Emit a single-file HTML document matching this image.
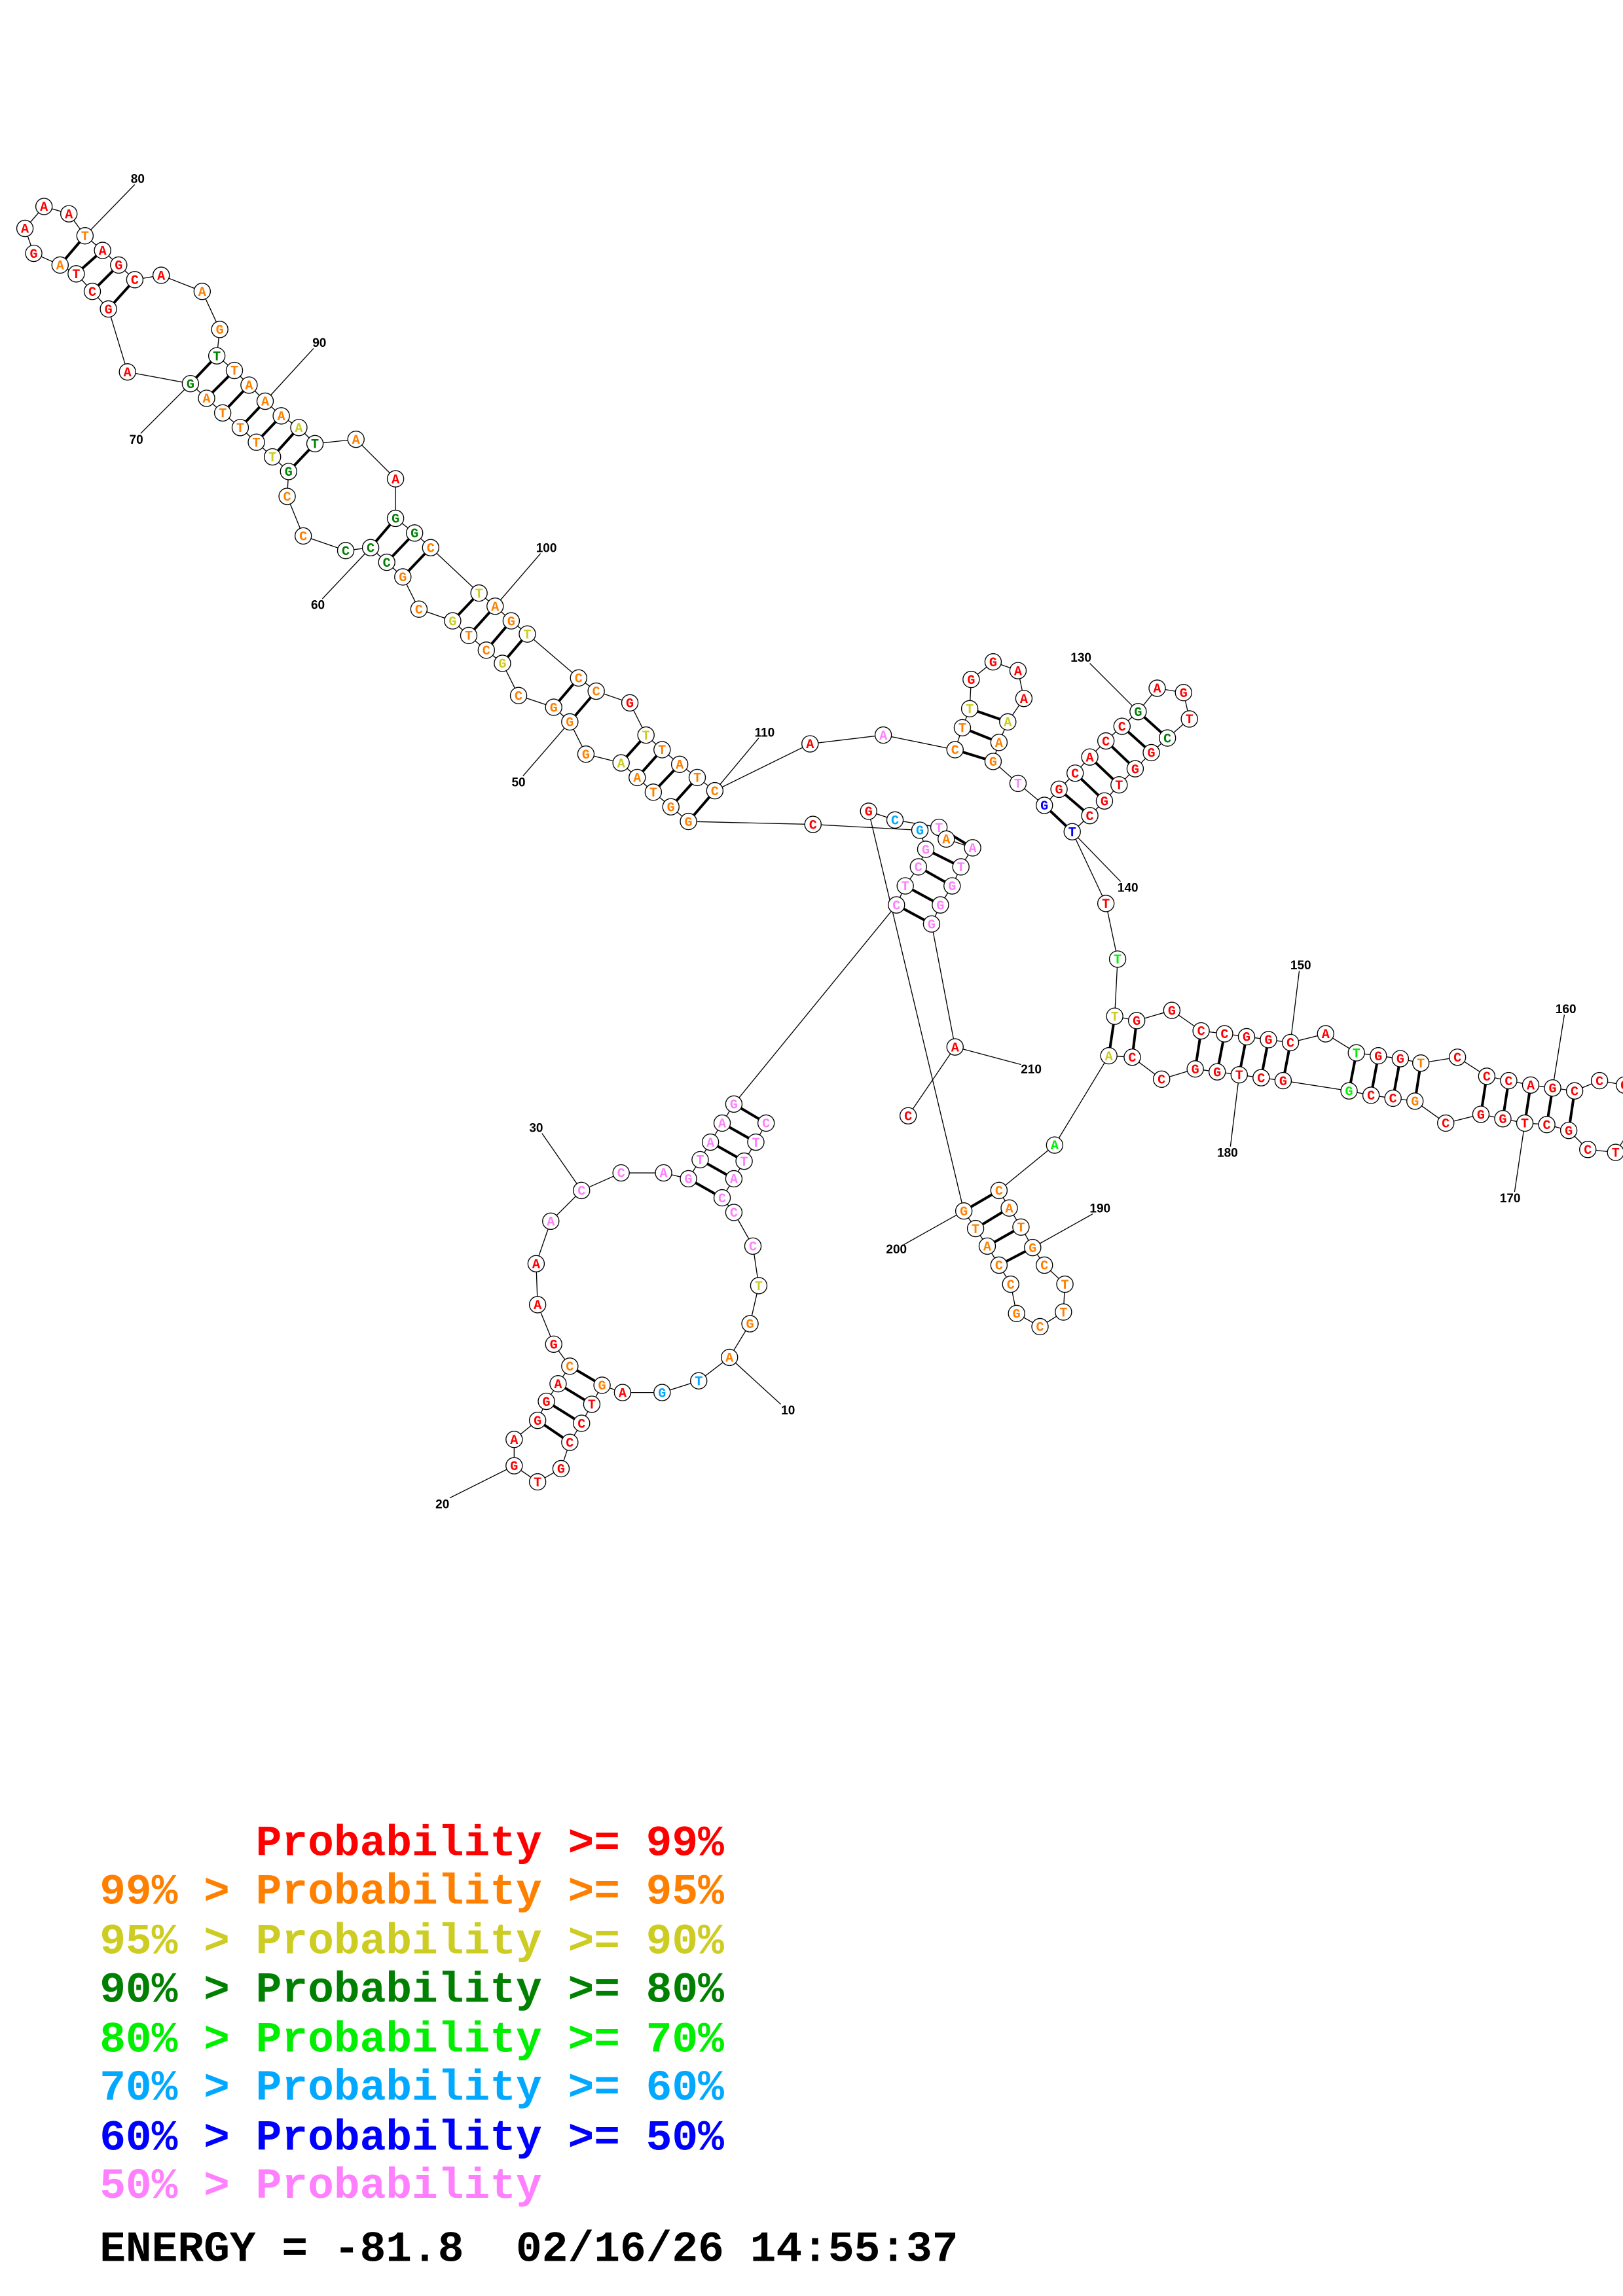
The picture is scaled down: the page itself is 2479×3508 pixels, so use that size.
<!DOCTYPE html>
<html><head><meta charset="utf-8"><style>
html,body{margin:0;padding:0;background:#fff}
svg{display:block}
circle{fill:#fff;stroke:#000;stroke-width:.6}
.bb{fill:none;stroke:#000;stroke-width:.6}
.pr{stroke:#000;stroke-width:1.8}
.ll{stroke:#000;stroke-width:.6}
text.n{font-family:"Liberation Mono",monospace;font-weight:bold;font-size:9px;text-anchor:middle}
text.l{font-family:"Liberation Sans",sans-serif;font-weight:bold;font-size:8.5px;text-anchor:middle}
.r{fill:#f00}.o{fill:#ff8000}.y{fill:#cccc22}.d{fill:#008000}.g{fill:#00ee00}.u{fill:#00a8ff}.b{fill:#0000ff}.p{fill:#ff80ff}
text.lg{font-family:"Liberation Mono",monospace;font-weight:bold;font-size:29.6px;white-space:pre}
</style></head><body>
<svg xmlns="http://www.w3.org/2000/svg" width="2479" height="3508" viewBox="0 0 1108 1568">
<polyline class="bb" points="523,767 516,780 508,793 501,805 493,818 501,828 514,851 518,878 512,904 498,927 477,943 452,951 425,951 411,946 404,959 397,972 389,985 383,1003 367,1012 351,1001 351,983 367,970 373,957 381,945 389,933 378,918 367,891 366,863 376,834 397,813 424,801 453,801 470,805 478,792 485,780 493,767 501,754 612,618 618,605 627,592 632,580 628,567 555,563 470,561 458,551 446,541 435,531 424,521 400,515 389,493 378,483 354,475 343,453 332,444 320,434 309,424 286,416 275,394 264,384 253,374 236,376 207,366 196,339 197,322 186,312 175,302 164,292 152,282 141,272 130,262 87,254 74,211 63,199 52,187 41,181 23,173 17,156 30,141 47,146 58,161 70,171 81,181 92,191 110,188 138,199 150,225 148,243 160,253 170,263 181,274 192,284 204,292 215,303 243,300 270,327 270,354 283,364 294,374 327,405 338,414 349,424 360,433 395,463 407,472 430,480 441,502 452,512 464,522 476,531 488,540 553,508 603,502 652,512 657,497 662,484 663,464 678,452 695,458 699,477 688,493 682,507 678,520 695,535 713,550 723,539 734,528 744,517 755,506 766,496 777,486 790,470 808,473 812,491 797,504 786,514 775,525 764,536 754,547 744,557 732,568 755,617 763,655 761,694 776,697 800,690 820,704 836,706 851,708 866,710 881,712 905,706 926,719 941,721 956,723 970,726 995,722 1015,735 1030,738 1045,741 1060,743 1075,745 1092,738 1109,741 1114,770 1103,787 1084,785 1071,772 1056,768 1041,767 1026,764 1011,761 987,767 966,752 951,750 936,748 921,745 876,738 861,736 846,734 831,732 816,730 793,737 773,722 757,721 720,782 682,813 689,825 697,838 705,852 713,864 727,877 726,896 710,906 694,897 690,877 682,864 674,851 666,839 658,827 593,554 611,560 641,565 646,573 664,579 656,592 650,605 642,618 636,631 652,715 620,762"/>
<g class="pr">
<line x1="41" y1="181" x2="58" y2="161"/><line x1="52" y1="187" x2="70" y2="171"/><line x1="63" y1="199" x2="81" y2="181"/><line x1="74" y1="211" x2="92" y2="191"/>
<line x1="130" y1="262" x2="148" y2="243"/><line x1="141" y1="272" x2="160" y2="253"/><line x1="152" y1="282" x2="170" y2="263"/><line x1="164" y1="292" x2="181" y2="274"/><line x1="175" y1="302" x2="192" y2="284"/><line x1="186" y1="312" x2="204" y2="292"/><line x1="197" y1="322" x2="215" y2="303"/>
<line x1="253" y1="374" x2="270" y2="354"/><line x1="264" y1="384" x2="283" y2="364"/><line x1="275" y1="394" x2="294" y2="374"/>
<line x1="309" y1="424" x2="327" y2="405"/><line x1="320" y1="434" x2="338" y2="414"/><line x1="332" y1="444" x2="349" y2="424"/><line x1="343" y1="453" x2="360" y2="433"/>
<line x1="378" y1="483" x2="395" y2="463"/><line x1="389" y1="493" x2="407" y2="472"/>
<line x1="424" y1="521" x2="441" y2="502"/><line x1="435" y1="531" x2="452" y2="512"/><line x1="446" y1="541" x2="464" y2="522"/><line x1="458" y1="551" x2="476" y2="531"/><line x1="470" y1="561" x2="488" y2="540"/>
<line x1="652" y1="512" x2="678" y2="520"/><line x1="657" y1="497" x2="682" y2="507"/><line x1="662" y1="484" x2="688" y2="493"/>
<line x1="713" y1="550" x2="732" y2="568"/><line x1="723" y1="539" x2="744" y2="557"/><line x1="734" y1="528" x2="754" y2="547"/><line x1="744" y1="517" x2="764" y2="536"/><line x1="755" y1="506" x2="775" y2="525"/><line x1="766" y1="496" x2="786" y2="514"/><line x1="777" y1="486" x2="797" y2="504"/>
<line x1="761" y1="694" x2="757" y2="721"/><line x1="776" y1="697" x2="773" y2="722"/><line x1="820" y1="704" x2="816" y2="730"/><line x1="836" y1="706" x2="831" y2="732"/><line x1="851" y1="708" x2="846" y2="734"/><line x1="866" y1="710" x2="861" y2="736"/><line x1="881" y1="712" x2="876" y2="738"/><line x1="926" y1="719" x2="921" y2="745"/><line x1="941" y1="721" x2="936" y2="748"/><line x1="956" y1="723" x2="951" y2="750"/><line x1="970" y1="726" x2="966" y2="752"/><line x1="1015" y1="735" x2="1011" y2="761"/><line x1="1030" y1="738" x2="1026" y2="764"/><line x1="1045" y1="741" x2="1041" y2="767"/><line x1="1060" y1="743" x2="1056" y2="768"/><line x1="1075" y1="745" x2="1071" y2="772"/>
<line x1="682" y1="813" x2="658" y2="827"/><line x1="689" y1="825" x2="666" y2="839"/><line x1="697" y1="838" x2="674" y2="851"/><line x1="705" y1="852" x2="682" y2="864"/>
<line x1="641" y1="565" x2="664" y2="579"/><line x1="632" y1="580" x2="656" y2="592"/><line x1="627" y1="592" x2="650" y2="605"/><line x1="618" y1="605" x2="642" y2="618"/><line x1="612" y1="618" x2="636" y2="631"/>
<line x1="501" y1="754" x2="523" y2="767"/><line x1="493" y1="767" x2="516" y2="780"/><line x1="485" y1="780" x2="508" y2="793"/><line x1="478" y1="792" x2="501" y2="805"/><line x1="470" y1="805" x2="493" y2="818"/>
<line x1="389" y1="933" x2="411" y2="946"/><line x1="381" y1="945" x2="404" y2="959"/><line x1="373" y1="957" x2="397" y2="972"/><line x1="367" y1="970" x2="389" y2="985"/>
</g>
<g class="ll">
<line x1="58" y1="161" x2="92" y2="126"/><line x1="181" y1="274" x2="214" y2="238"/><line x1="130" y1="262" x2="96" y2="296"/><line x1="253" y1="374" x2="220" y2="409"/><line x1="338" y1="414" x2="369" y2="378"/><line x1="389" y1="493" x2="357" y2="530"/><line x1="488" y1="540" x2="518" y2="504"/><line x1="777" y1="486" x2="744" y2="453"/><line x1="732" y1="568" x2="765" y2="602"/><line x1="881" y1="712" x2="887" y2="663"/><line x1="1060" y1="743" x2="1068" y2="693"/><line x1="1041" y1="767" x2="1034" y2="814"/><line x1="846" y1="734" x2="840" y2="783"/><line x1="705" y1="852" x2="746" y2="829"/><line x1="658" y1="827" x2="617" y2="850"/><line x1="652" y1="715" x2="697" y2="727"/><line x1="498" y1="927" x2="533" y2="959"/><line x1="351" y1="1001" x2="307" y2="1023"/><line x1="397" y1="813" x2="370" y2="774"/>
</g>
<g>
<text class="l" x="94" y="125">80</text><text class="l" x="218" y="237">90</text><text class="l" x="93" y="303">70</text><text class="l" x="217" y="416">60</text><text class="l" x="373" y="377">100</text><text class="l" x="354" y="537">50</text><text class="l" x="522" y="503">110</text><text class="l" x="738" y="452">130</text><text class="l" x="770" y="609">140</text><text class="l" x="888" y="662">150</text><text class="l" x="1069" y="692">160</text><text class="l" x="1031" y="821">170</text><text class="l" x="838" y="790">180</text><text class="l" x="751" y="828">190</text><text class="l" x="612" y="856">200</text><text class="l" x="704" y="733">210</text><text class="l" x="538" y="966">10</text><text class="l" x="302" y="1030">20</text><text class="l" x="366" y="773">30</text>
</g>
<g id="nodes">
<circle cx="523" cy="767" r="5.6"/><text class="n p" x="523" y="770">C</text>
<circle cx="516" cy="780" r="5.6"/><text class="n p" x="516" y="783">T</text>
<circle cx="508" cy="793" r="5.6"/><text class="n p" x="508" y="796">T</text>
<circle cx="501" cy="805" r="5.6"/><text class="n p" x="501" y="808">A</text>
<circle cx="493" cy="818" r="5.6"/><text class="n p" x="493" y="821">C</text>
<circle cx="501" cy="828" r="5.6"/><text class="n p" x="501" y="831">C</text>
<circle cx="514" cy="851" r="5.6"/><text class="n p" x="514" y="854">C</text>
<circle cx="518" cy="878" r="5.6"/><text class="n y" x="518" y="881">T</text>
<circle cx="512" cy="904" r="5.6"/><text class="n o" x="512" y="907">G</text>
<circle cx="498" cy="927" r="5.6"/><text class="n o" x="498" y="930">A</text>
<circle cx="477" cy="943" r="5.6"/><text class="n u" x="477" y="946">T</text>
<circle cx="452" cy="951" r="5.6"/><text class="n u" x="452" y="954">G</text>
<circle cx="425" cy="951" r="5.6"/><text class="n r" x="425" y="954">A</text>
<circle cx="411" cy="946" r="5.6"/><text class="n o" x="411" y="949">G</text>
<circle cx="404" cy="959" r="5.6"/><text class="n r" x="404" y="962">T</text>
<circle cx="397" cy="972" r="5.6"/><text class="n r" x="397" y="975">C</text>
<circle cx="389" cy="985" r="5.6"/><text class="n r" x="389" y="988">C</text>
<circle cx="383" cy="1003" r="5.6"/><text class="n r" x="383" y="1006">G</text>
<circle cx="367" cy="1012" r="5.6"/><text class="n r" x="367" y="1015">T</text>
<circle cx="351" cy="1001" r="5.6"/><text class="n r" x="351" y="1004">G</text>
<circle cx="351" cy="983" r="5.6"/><text class="n r" x="351" y="986">A</text>
<circle cx="367" cy="970" r="5.6"/><text class="n r" x="367" y="973">G</text>
<circle cx="373" cy="957" r="5.6"/><text class="n r" x="373" y="960">G</text>
<circle cx="381" cy="945" r="5.6"/><text class="n r" x="381" y="948">A</text>
<circle cx="389" cy="933" r="5.6"/><text class="n o" x="389" y="936">C</text>
<circle cx="378" cy="918" r="5.6"/><text class="n r" x="378" y="921">G</text>
<circle cx="367" cy="891" r="5.6"/><text class="n r" x="367" y="894">A</text>
<circle cx="366" cy="863" r="5.6"/><text class="n r" x="366" y="866">A</text>
<circle cx="376" cy="834" r="5.6"/><text class="n p" x="376" y="837">A</text>
<circle cx="397" cy="813" r="5.6"/><text class="n p" x="397" y="816">C</text>
<circle cx="424" cy="801" r="5.6"/><text class="n p" x="424" y="804">C</text>
<circle cx="453" cy="801" r="5.6"/><text class="n p" x="453" y="804">A</text>
<circle cx="470" cy="805" r="5.6"/><text class="n p" x="470" y="808">G</text>
<circle cx="478" cy="792" r="5.6"/><text class="n p" x="478" y="795">T</text>
<circle cx="485" cy="780" r="5.6"/><text class="n p" x="485" y="783">A</text>
<circle cx="493" cy="767" r="5.6"/><text class="n p" x="493" y="770">A</text>
<circle cx="501" cy="754" r="5.6"/><text class="n p" x="501" y="757">G</text>
<circle cx="612" cy="618" r="5.6"/><text class="n p" x="612" y="621">C</text>
<circle cx="618" cy="605" r="5.6"/><text class="n p" x="618" y="608">T</text>
<circle cx="627" cy="592" r="5.6"/><text class="n p" x="627" y="595">C</text>
<circle cx="632" cy="580" r="5.6"/><text class="n p" x="632" y="583">G</text>
<circle cx="628" cy="567" r="5.6"/><text class="n u" x="628" y="570">G</text>
<circle cx="555" cy="563" r="5.6"/><text class="n r" x="555" y="566">C</text>
<circle cx="470" cy="561" r="5.6"/><text class="n o" x="470" y="564">G</text>
<circle cx="458" cy="551" r="5.6"/><text class="n o" x="458" y="554">G</text>
<circle cx="446" cy="541" r="5.6"/><text class="n o" x="446" y="544">T</text>
<circle cx="435" cy="531" r="5.6"/><text class="n o" x="435" y="534">A</text>
<circle cx="424" cy="521" r="5.6"/><text class="n y" x="424" y="524">A</text>
<circle cx="400" cy="515" r="5.6"/><text class="n o" x="400" y="518">G</text>
<circle cx="389" cy="493" r="5.6"/><text class="n o" x="389" y="496">G</text>
<circle cx="378" cy="483" r="5.6"/><text class="n o" x="378" y="486">G</text>
<circle cx="354" cy="475" r="5.6"/><text class="n o" x="354" y="478">C</text>
<circle cx="343" cy="453" r="5.6"/><text class="n y" x="343" y="456">G</text>
<circle cx="332" cy="444" r="5.6"/><text class="n o" x="332" y="447">C</text>
<circle cx="320" cy="434" r="5.6"/><text class="n o" x="320" y="437">T</text>
<circle cx="309" cy="424" r="5.6"/><text class="n y" x="309" y="427">G</text>
<circle cx="286" cy="416" r="5.6"/><text class="n o" x="286" y="419">C</text>
<circle cx="275" cy="394" r="5.6"/><text class="n o" x="275" y="397">G</text>
<circle cx="264" cy="384" r="5.6"/><text class="n d" x="264" y="387">C</text>
<circle cx="253" cy="374" r="5.6"/><text class="n d" x="253" y="377">C</text>
<circle cx="236" cy="376" r="5.6"/><text class="n d" x="236" y="379">C</text>
<circle cx="207" cy="366" r="5.6"/><text class="n o" x="207" y="369">C</text>
<circle cx="196" cy="339" r="5.6"/><text class="n o" x="196" y="342">C</text>
<circle cx="197" cy="322" r="5.6"/><text class="n d" x="197" y="325">G</text>
<circle cx="186" cy="312" r="5.6"/><text class="n y" x="186" y="315">T</text>
<circle cx="175" cy="302" r="5.6"/><text class="n o" x="175" y="305">T</text>
<circle cx="164" cy="292" r="5.6"/><text class="n o" x="164" y="295">T</text>
<circle cx="152" cy="282" r="5.6"/><text class="n o" x="152" y="285">T</text>
<circle cx="141" cy="272" r="5.6"/><text class="n o" x="141" y="275">A</text>
<circle cx="130" cy="262" r="5.6"/><text class="n d" x="130" y="265">G</text>
<circle cx="87" cy="254" r="5.6"/><text class="n r" x="87" y="257">A</text>
<circle cx="74" cy="211" r="5.6"/><text class="n r" x="74" y="214">G</text>
<circle cx="63" cy="199" r="5.6"/><text class="n r" x="63" y="202">C</text>
<circle cx="52" cy="187" r="5.6"/><text class="n r" x="52" y="190">T</text>
<circle cx="41" cy="181" r="5.6"/><text class="n o" x="41" y="184">A</text>
<circle cx="23" cy="173" r="5.6"/><text class="n r" x="23" y="176">G</text>
<circle cx="17" cy="156" r="5.6"/><text class="n r" x="17" y="159">A</text>
<circle cx="30" cy="141" r="5.6"/><text class="n r" x="30" y="144">A</text>
<circle cx="47" cy="146" r="5.6"/><text class="n r" x="47" y="149">A</text>
<circle cx="58" cy="161" r="5.6"/><text class="n o" x="58" y="164">T</text>
<circle cx="70" cy="171" r="5.6"/><text class="n r" x="70" y="174">A</text>
<circle cx="81" cy="181" r="5.6"/><text class="n r" x="81" y="184">G</text>
<circle cx="92" cy="191" r="5.6"/><text class="n r" x="92" y="194">C</text>
<circle cx="110" cy="188" r="5.6"/><text class="n r" x="110" y="191">A</text>
<circle cx="138" cy="199" r="5.6"/><text class="n o" x="138" y="202">A</text>
<circle cx="150" cy="225" r="5.6"/><text class="n o" x="150" y="228">G</text>
<circle cx="148" cy="243" r="5.6"/><text class="n d" x="148" y="246">T</text>
<circle cx="160" cy="253" r="5.6"/><text class="n o" x="160" y="256">T</text>
<circle cx="170" cy="263" r="5.6"/><text class="n o" x="170" y="266">A</text>
<circle cx="181" cy="274" r="5.6"/><text class="n o" x="181" y="277">A</text>
<circle cx="192" cy="284" r="5.6"/><text class="n o" x="192" y="287">A</text>
<circle cx="204" cy="292" r="5.6"/><text class="n y" x="204" y="295">A</text>
<circle cx="215" cy="303" r="5.6"/><text class="n d" x="215" y="306">T</text>
<circle cx="243" cy="300" r="5.6"/><text class="n o" x="243" y="303">A</text>
<circle cx="270" cy="327" r="5.6"/><text class="n r" x="270" y="330">A</text>
<circle cx="270" cy="354" r="5.6"/><text class="n d" x="270" y="357">G</text>
<circle cx="283" cy="364" r="5.6"/><text class="n d" x="283" y="367">G</text>
<circle cx="294" cy="374" r="5.6"/><text class="n o" x="294" y="377">C</text>
<circle cx="327" cy="405" r="5.6"/><text class="n y" x="327" y="408">T</text>
<circle cx="338" cy="414" r="5.6"/><text class="n o" x="338" y="417">A</text>
<circle cx="349" cy="424" r="5.6"/><text class="n o" x="349" y="427">G</text>
<circle cx="360" cy="433" r="5.6"/><text class="n y" x="360" y="436">T</text>
<circle cx="395" cy="463" r="5.6"/><text class="n o" x="395" y="466">C</text>
<circle cx="407" cy="472" r="5.6"/><text class="n o" x="407" y="475">C</text>
<circle cx="430" cy="480" r="5.6"/><text class="n r" x="430" y="483">G</text>
<circle cx="441" cy="502" r="5.6"/><text class="n y" x="441" y="505">T</text>
<circle cx="452" cy="512" r="5.6"/><text class="n o" x="452" y="515">T</text>
<circle cx="464" cy="522" r="5.6"/><text class="n o" x="464" y="525">A</text>
<circle cx="476" cy="531" r="5.6"/><text class="n o" x="476" y="534">T</text>
<circle cx="488" cy="540" r="5.6"/><text class="n o" x="488" y="543">C</text>
<circle cx="553" cy="508" r="5.6"/><text class="n r" x="553" y="511">A</text>
<circle cx="603" cy="502" r="5.6"/><text class="n p" x="603" y="505">A</text>
<circle cx="652" cy="512" r="5.6"/><text class="n o" x="652" y="515">C</text>
<circle cx="657" cy="497" r="5.6"/><text class="n o" x="657" y="500">T</text>
<circle cx="662" cy="484" r="5.6"/><text class="n y" x="662" y="487">T</text>
<circle cx="663" cy="464" r="5.6"/><text class="n r" x="663" y="467">G</text>
<circle cx="678" cy="452" r="5.6"/><text class="n r" x="678" y="455">G</text>
<circle cx="695" cy="458" r="5.6"/><text class="n r" x="695" y="461">A</text>
<circle cx="699" cy="477" r="5.6"/><text class="n r" x="699" y="480">A</text>
<circle cx="688" cy="493" r="5.6"/><text class="n y" x="688" y="496">A</text>
<circle cx="682" cy="507" r="5.6"/><text class="n o" x="682" y="510">A</text>
<circle cx="678" cy="520" r="5.6"/><text class="n o" x="678" y="523">G</text>
<circle cx="695" cy="535" r="5.6"/><text class="n p" x="695" y="538">T</text>
<circle cx="713" cy="550" r="5.6"/><text class="n b" x="713" y="553">G</text>
<circle cx="723" cy="539" r="5.6"/><text class="n r" x="723" y="542">G</text>
<circle cx="734" cy="528" r="5.6"/><text class="n r" x="734" y="531">C</text>
<circle cx="744" cy="517" r="5.6"/><text class="n r" x="744" y="520">A</text>
<circle cx="755" cy="506" r="5.6"/><text class="n r" x="755" y="509">C</text>
<circle cx="766" cy="496" r="5.6"/><text class="n r" x="766" y="499">C</text>
<circle cx="777" cy="486" r="5.6"/><text class="n d" x="777" y="489">G</text>
<circle cx="790" cy="470" r="5.6"/><text class="n r" x="790" y="473">A</text>
<circle cx="808" cy="473" r="5.6"/><text class="n r" x="808" y="476">G</text>
<circle cx="812" cy="491" r="5.6"/><text class="n r" x="812" y="494">T</text>
<circle cx="797" cy="504" r="5.6"/><text class="n d" x="797" y="507">C</text>
<circle cx="786" cy="514" r="5.6"/><text class="n r" x="786" y="517">G</text>
<circle cx="775" cy="525" r="5.6"/><text class="n r" x="775" y="528">G</text>
<circle cx="764" cy="536" r="5.6"/><text class="n r" x="764" y="539">T</text>
<circle cx="754" cy="547" r="5.6"/><text class="n r" x="754" y="550">G</text>
<circle cx="744" cy="557" r="5.6"/><text class="n r" x="744" y="560">C</text>
<circle cx="732" cy="568" r="5.6"/><text class="n b" x="732" y="571">T</text>
<circle cx="755" cy="617" r="5.6"/><text class="n r" x="755" y="620">T</text>
<circle cx="763" cy="655" r="5.6"/><text class="n g" x="763" y="658">T</text>
<circle cx="761" cy="694" r="5.6"/><text class="n y" x="761" y="697">T</text>
<circle cx="776" cy="697" r="5.6"/><text class="n r" x="776" y="700">G</text>
<circle cx="800" cy="690" r="5.6"/><text class="n r" x="800" y="693">G</text>
<circle cx="820" cy="704" r="5.6"/><text class="n r" x="820" y="707">C</text>
<circle cx="836" cy="706" r="5.6"/><text class="n r" x="836" y="709">C</text>
<circle cx="851" cy="708" r="5.6"/><text class="n r" x="851" y="711">G</text>
<circle cx="866" cy="710" r="5.6"/><text class="n r" x="866" y="713">G</text>
<circle cx="881" cy="712" r="5.6"/><text class="n r" x="881" y="715">C</text>
<circle cx="905" cy="706" r="5.6"/><text class="n r" x="905" y="709">A</text>
<circle cx="926" cy="719" r="5.6"/><text class="n g" x="926" y="722">T</text>
<circle cx="941" cy="721" r="5.6"/><text class="n r" x="941" y="724">G</text>
<circle cx="956" cy="723" r="5.6"/><text class="n r" x="956" y="726">G</text>
<circle cx="970" cy="726" r="5.6"/><text class="n o" x="970" y="729">T</text>
<circle cx="995" cy="722" r="5.6"/><text class="n r" x="995" y="725">C</text>
<circle cx="1015" cy="735" r="5.6"/><text class="n r" x="1015" y="738">C</text>
<circle cx="1030" cy="738" r="5.6"/><text class="n r" x="1030" y="741">C</text>
<circle cx="1045" cy="741" r="5.6"/><text class="n r" x="1045" y="744">A</text>
<circle cx="1060" cy="743" r="5.6"/><text class="n r" x="1060" y="746">G</text>
<circle cx="1075" cy="745" r="5.6"/><text class="n r" x="1075" y="748">C</text>
<circle cx="1092" cy="738" r="5.6"/><text class="n r" x="1092" y="741">C</text>
<circle cx="1109" cy="741" r="5.6"/><text class="n r" x="1109" y="744">C</text>
<circle cx="1103" cy="787" r="5.6"/><text class="n r" x="1103" y="790">T</text>
<circle cx="1084" cy="785" r="5.6"/><text class="n r" x="1084" y="788">C</text>
<circle cx="1071" cy="772" r="5.6"/><text class="n r" x="1071" y="775">G</text>
<circle cx="1056" cy="768" r="5.6"/><text class="n r" x="1056" y="771">C</text>
<circle cx="1041" cy="767" r="5.6"/><text class="n r" x="1041" y="770">T</text>
<circle cx="1026" cy="764" r="5.6"/><text class="n r" x="1026" y="767">G</text>
<circle cx="1011" cy="761" r="5.6"/><text class="n r" x="1011" y="764">G</text>
<circle cx="987" cy="767" r="5.6"/><text class="n r" x="987" y="770">C</text>
<circle cx="966" cy="752" r="5.6"/><text class="n o" x="966" y="755">G</text>
<circle cx="951" cy="750" r="5.6"/><text class="n r" x="951" y="753">C</text>
<circle cx="936" cy="748" r="5.6"/><text class="n r" x="936" y="751">C</text>
<circle cx="921" cy="745" r="5.6"/><text class="n g" x="921" y="748">G</text>
<circle cx="876" cy="738" r="5.6"/><text class="n r" x="876" y="741">G</text>
<circle cx="861" cy="736" r="5.6"/><text class="n r" x="861" y="739">C</text>
<circle cx="846" cy="734" r="5.6"/><text class="n r" x="846" y="737">T</text>
<circle cx="831" cy="732" r="5.6"/><text class="n r" x="831" y="735">G</text>
<circle cx="816" cy="730" r="5.6"/><text class="n r" x="816" y="733">G</text>
<circle cx="793" cy="737" r="5.6"/><text class="n r" x="793" y="740">C</text>
<circle cx="773" cy="722" r="5.6"/><text class="n r" x="773" y="725">C</text>
<circle cx="757" cy="721" r="5.6"/><text class="n y" x="757" y="724">A</text>
<circle cx="720" cy="782" r="5.6"/><text class="n g" x="720" y="785">A</text>
<circle cx="682" cy="813" r="5.6"/><text class="n o" x="682" y="816">C</text>
<circle cx="689" cy="825" r="5.6"/><text class="n o" x="689" y="828">A</text>
<circle cx="697" cy="838" r="5.6"/><text class="n o" x="697" y="841">T</text>
<circle cx="705" cy="852" r="5.6"/><text class="n o" x="705" y="855">G</text>
<circle cx="713" cy="864" r="5.6"/><text class="n o" x="713" y="867">C</text>
<circle cx="727" cy="877" r="5.6"/><text class="n o" x="727" y="880">T</text>
<circle cx="726" cy="896" r="5.6"/><text class="n o" x="726" y="899">T</text>
<circle cx="710" cy="906" r="5.6"/><text class="n o" x="710" y="909">C</text>
<circle cx="694" cy="897" r="5.6"/><text class="n o" x="694" y="900">G</text>
<circle cx="690" cy="877" r="5.6"/><text class="n o" x="690" y="880">C</text>
<circle cx="682" cy="864" r="5.6"/><text class="n o" x="682" y="867">C</text>
<circle cx="674" cy="851" r="5.6"/><text class="n o" x="674" y="854">A</text>
<circle cx="666" cy="839" r="5.6"/><text class="n o" x="666" y="842">T</text>
<circle cx="658" cy="827" r="5.6"/><text class="n o" x="658" y="830">G</text>
<circle cx="593" cy="554" r="5.6"/><text class="n r" x="593" y="557">G</text>
<circle cx="611" cy="560" r="5.6"/><text class="n u" x="611" y="563">C</text>
<circle cx="641" cy="565" r="5.6"/><text class="n p" x="641" y="568">T</text>
<circle cx="646" cy="573" r="5.6"/><text class="n o" x="646" y="576">A</text>
<circle cx="664" cy="579" r="5.6"/><text class="n p" x="664" y="582">A</text>
<circle cx="656" cy="592" r="5.6"/><text class="n p" x="656" y="595">T</text>
<circle cx="650" cy="605" r="5.6"/><text class="n p" x="650" y="608">G</text>
<circle cx="642" cy="618" r="5.6"/><text class="n p" x="642" y="621">G</text>
<circle cx="636" cy="631" r="5.6"/><text class="n p" x="636" y="634">G</text>
<circle cx="652" cy="715" r="5.6"/><text class="n r" x="652" y="718">A</text>
<circle cx="620" cy="762" r="5.6"/><text class="n r" x="620" y="765">C</text>
</g>
<g>
<text class="lg r" x="68" y="1267">      Probability &gt;= 99%</text>
<text class="lg o" x="68" y="1300">99% &gt; Probability &gt;= 95%</text>
<text class="lg y" x="68" y="1334">95% &gt; Probability &gt;= 90%</text>
<text class="lg d" x="68" y="1367">90% &gt; Probability &gt;= 80%</text>
<text class="lg g" x="68" y="1401">80% &gt; Probability &gt;= 70%</text>
<text class="lg u" x="68" y="1434">70% &gt; Probability &gt;= 60%</text>
<text class="lg b" x="68" y="1468">60% &gt; Probability &gt;= 50%</text>
<text class="lg p" x="68" y="1501">50% &gt; Probability</text>
<text class="lg" x="68" y="1544" fill="#000">ENERGY = -81.8  02/16/26 14:55:37</text>
</g>
</svg>
</body></html>
